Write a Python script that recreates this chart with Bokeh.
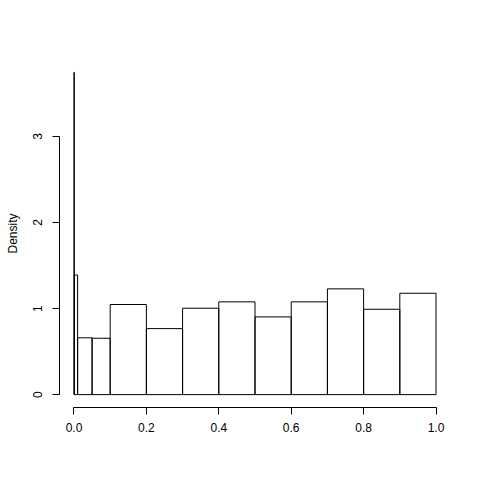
from bokeh.plotting import figure
from bokeh.models import Range1d, FixedTicker, PrintfTickFormatter
from bokeh.embed import file_html
from bokeh.resources import INLINE

# Histogram with unequal breaks (R-style)
breaks = [0.0, 0.001, 0.01, 0.05, 0.1, 0.2, 0.3, 0.4, 0.5, 0.6, 0.7, 0.8, 0.9, 1.0]
density = [3.745, 1.39, 0.66, 0.655, 1.047, 0.767, 1.004, 1.078, 0.903, 1.078, 1.229, 0.992, 1.178]
x_ticks = [0.0, 0.2, 0.4, 0.6, 0.8, 1.0]
y_ticks = [0, 1, 2, 3]

left = breaks[:-1]
right = breaks[1:]
ymax = max(density)
xmin, xmax = breaks[0], breaks[-1]

FONT = "Liberation Sans"

p = figure(width=472, height=472, output_backend="svg", toolbar_location=None,
           x_range=Range1d(xmin - 0.04 * (xmax - xmin), xmax + 0.04 * (xmax - xmin)),
           y_range=Range1d(-0.04 * ymax, 1.04 * ymax),
           min_border_left=59, min_border_right=22, min_border_top=59, min_border_bottom=65)
p.outline_line_color = None
p.grid.visible = False
p.background_fill_color = "white"
p.border_fill_color = "white"

p.quad(left=left, right=right, bottom=0, top=density,
       fill_color=None, line_color="black", line_width=1)

xa = p.xaxis[0]
xa.ticker = FixedTicker(ticks=x_ticks)
xa.formatter = PrintfTickFormatter(format="%.1f")
xa.bounds = (x_ticks[0], x_ticks[-1])

ya = p.yaxis[0]
ya.ticker = FixedTicker(ticks=y_ticks)
ya.formatter = PrintfTickFormatter(format="%d")
ya.bounds = (y_ticks[0], y_ticks[-1])
ya.major_label_orientation = "vertical"
ya.axis_label = "Density"

for ax in (xa, ya):
    ax.axis_line_color = "black"
    ax.major_tick_line_color = "black"
    ax.major_tick_out = 7
    ax.major_tick_in = 0
    ax.minor_tick_line_color = None
    ax.major_label_text_font = FONT
    ax.major_label_text_font_size = "12px"
    ax.major_label_text_color = "black"
    ax.axis_label_text_font = FONT
    ax.axis_label_text_font_size = "12px"
    ax.axis_label_text_font_style = "normal"
    ax.axis_label_text_color = "black"

xa.major_label_standoff = 8
ya.major_label_standoff = 10
ya.axis_label_standoff = 11

open("out.html", "w").write(file_html(p, INLINE))
